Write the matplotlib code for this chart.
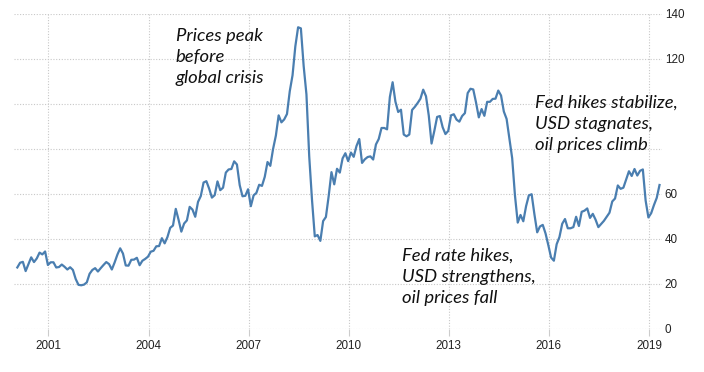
import numpy as np
import matplotlib
matplotlib.use("Agg")
import matplotlib.pyplot as plt

# monthly average crude price, Jan 2000 .. Apr 2019
prices = [
    27.3, 29.4, 29.8, 25.7, 28.8, 31.8, 29.7, 31.3, 33.9, 33.1, 34.4, 28.4,
    29.6, 29.6, 27.3, 27.5, 28.6, 27.6, 26.4, 27.4, 26.2, 22.2, 19.6, 19.4,
    19.7, 20.7, 24.5, 26.2, 27.0, 25.5, 27.0, 28.4, 29.7, 28.8, 26.4, 29.5,
    33.0, 35.8, 33.5, 28.2, 28.1, 30.7, 30.8, 31.6, 28.3, 30.3, 31.1, 32.1,
    34.3, 34.7, 36.7, 36.8, 40.3, 38.0, 40.8, 44.9, 45.9, 53.3, 48.5, 43.2,
    46.8, 48.2, 54.2, 53.0, 49.8, 56.4, 59.0, 65.0, 65.6, 62.3, 58.3, 59.4,
    65.5, 61.6, 62.7, 69.4, 70.8, 71.0, 74.4, 73.0, 63.8, 58.9, 59.1, 62.0,
    54.5, 59.3, 60.4, 64.0, 63.5, 67.5, 74.1, 72.4, 79.9, 85.8, 94.8, 91.7,
    93.0, 95.4, 105.5, 112.6, 125.4, 133.9, 133.4, 116.7, 104.1, 76.6, 57.3, 41.1,
    41.7, 39.1, 47.9, 49.7, 59.0, 69.6, 64.2, 71.1, 69.4, 75.7, 78.0, 74.5,
    78.3, 76.4, 81.2, 84.3, 73.7, 75.3, 76.3, 76.6, 75.2, 81.9, 84.3, 89.2,
    89.2, 88.6, 102.9, 109.5, 100.9, 96.3, 97.3, 86.3, 85.5, 86.3, 97.2, 98.6,
    100.3, 102.2, 106.2, 103.3, 94.7, 82.3, 87.9, 94.1, 94.5, 89.5, 86.5, 87.9,
    94.8, 95.3, 92.9, 92.0, 94.5, 95.8, 104.7, 106.6, 106.3, 100.5, 93.9, 97.6,
    94.6, 100.8, 100.8, 102.1, 102.2, 105.8, 103.6, 96.5, 93.2, 84.4, 75.8, 59.3,
    47.2, 50.6, 47.8, 54.5, 59.3, 59.8, 50.9, 42.9, 45.5, 46.2, 42.4, 37.2,
    31.7, 30.3, 37.6, 40.8, 46.7, 48.8, 44.7, 44.7, 45.2, 49.8, 45.7, 52.0,
    52.5, 53.5, 49.3, 51.1, 48.5, 45.2, 46.6, 48.0, 49.8, 51.6, 56.6, 57.9,
    63.7, 62.2, 62.7, 66.3, 70.0, 67.9, 71.0, 68.1, 70.2, 70.8, 57.0, 49.5,
    51.4, 55.0, 58.2, 63.9,
]
start_year = 2000
year_ticks = [2001, 2004, 2007, 2010, 2013, 2016, 2019]
value_ticks = [0, 20, 40, 60, 80, 100, 120, 140]
value_labels = ["0", "20", "40", "60", "", "", "120", "140"]

notes = [
    (2004.82, 133.5, "Prices peak\nbefore\nglobal crisis"),
    (2015.58, 104.0, "Fed hikes stabilize,\nUSD stagnates,\noil prices climb"),
    (2011.6, 36.0, "Fed rate hikes,\nUSD strengthens,\noil prices fall"),
]

t = start_year + (np.arange(len(prices)) + 0.8) / 12.0

fig = plt.figure(figsize=(7.04, 3.72), dpi=100)
ax = fig.add_axes([0.02, 0.1156, 0.9203, 0.8481])

ax.plot(t, prices, color="#4a7eb0", lw=1.6, solid_joinstyle="round")

ax.set_xlim(1999.97, 2019.39)
ax.set_ylim(0, 140)
ax.set_xticks(year_ticks)
ax.set_xticklabels([str(y) for y in year_ticks], family="Liberation Sans")
ax.set_yticks(value_ticks)
ax.set_yticklabels(value_labels, family="Liberation Sans")

ax.yaxis.tick_right()
ax.tick_params(axis="y", length=0, pad=2, labelsize=8.4, colors="#222222")
ax.tick_params(axis="x", length=5, width=0.8, color="#cccccc", pad=3,
               labelsize=8.4, labelcolor="#222222")
for s in ax.spines.values():
    s.set_visible(False)
ax.grid(True, color="#c8c8c8", ls=(0, (1, 1.5)), lw=0.8)
ax.set_axisbelow(True)

for x, y, txt in notes:
    ax.text(x, y, txt, fontsize=13.3, style="italic", family="Lato",
            va="top", ha="left", linespacing=1.38, color="#111111")

fig.savefig("out.png", dpi=100)
